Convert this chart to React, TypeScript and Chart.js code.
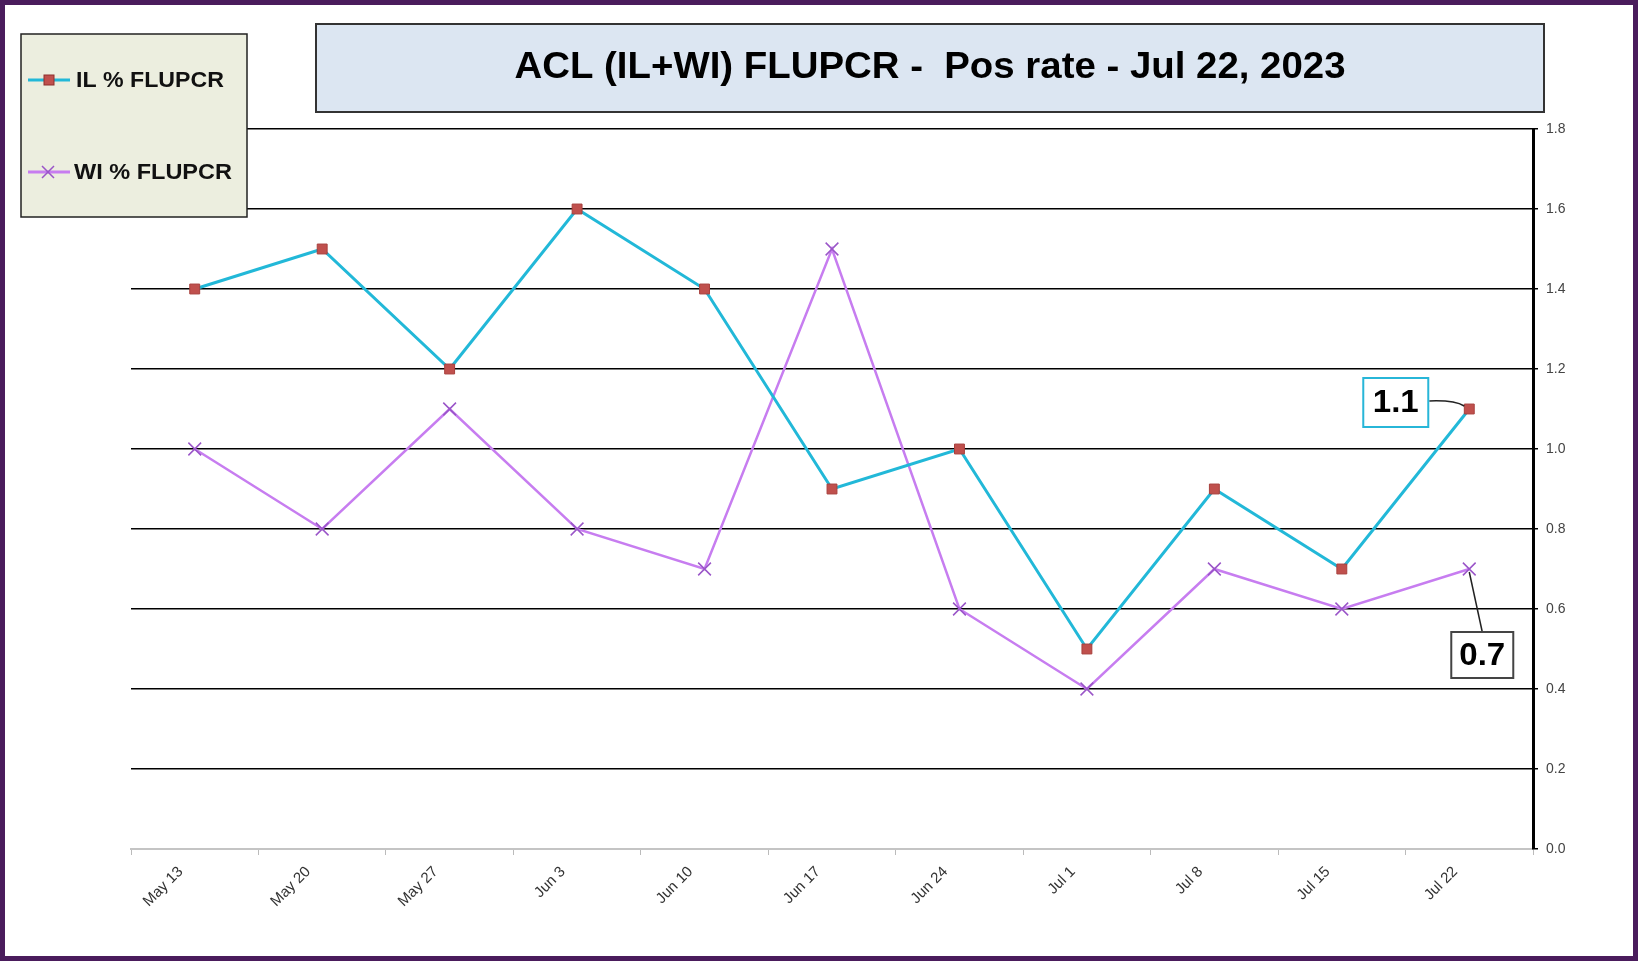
import React, { useEffect, useRef } from "react";
import { Chart, registerables } from "chart.js";

Chart.register(...registerables);

const categories = ["May 13", "May 20", "May 27", "Jun 3", "Jun 10", "Jun 17", "Jun 24", "Jul 1", "Jul 8", "Jul 15", "Jul 22"];
const ilValues = [1.4, 1.5, 1.2, 1.6, 1.4, 0.9, 1.0, 0.5, 0.9, 0.7, 1.1];
const wiValues = [1.0, 0.8, 1.1, 0.8, 0.7, 1.5, 0.6, 0.4, 0.7, 0.6, 0.7];
const seriesNames = ["IL % FLUPCR", "WI % FLUPCR"];
const titleText = "ACL (IL+WI) FLUPCR -  Pos rate - Jul 22, 2023";
const yMin = 0;
const yMax = 1.8;
const yStep = 0.2;

const IL_LINE = "#22B8D8";
const IL_MARK = "#C0504D";
const WI_LINE = "#C77DF0";
const WI_MARK = "#9A55C8";
const FONT = "'Liberation Sans', Arial, sans-serif";

function fitText(ctx: CanvasRenderingContext2D, text: string, x: number, y: number, width: number, font: string, align: CanvasTextAlign) {
  ctx.save();
  ctx.font = font;
  const w = ctx.measureText(text).width;
  const s = width / w;
  ctx.translate(x, y);
  ctx.scale(s, 1);
  ctx.textAlign = align;
  ctx.textBaseline = "middle";
  ctx.fillText(text, 0, 0);
  ctx.restore();
}

function drawSquare(ctx: CanvasRenderingContext2D, x: number, y: number, r: number) {
  ctx.fillStyle = IL_MARK;
  ctx.strokeStyle = "#8E2F2C";
  ctx.lineWidth = 1;
  ctx.fillRect(x - r, y - r, 2 * r, 2 * r);
  ctx.strokeRect(x - r, y - r, 2 * r, 2 * r);
}

function drawCross(ctx: CanvasRenderingContext2D, x: number, y: number, r: number) {
  ctx.strokeStyle = WI_MARK;
  ctx.lineWidth = 1.5;
  ctx.beginPath();
  ctx.moveTo(x - r, y - r);
  ctx.lineTo(x + r, y + r);
  ctx.moveTo(x + r, y - r);
  ctx.lineTo(x - r, y + r);
  ctx.stroke();
}

const decorPlugin = {
  id: "decor",
  afterDraw(chart: any) {
    const ctx: CanvasRenderingContext2D = chart.ctx;
    const W = chart.width;
    const H = chart.height;
    ctx.save();

    // Title box
    ctx.fillStyle = "#DCE6F2";
    ctx.fillRect(316, 24, 1228, 88);
    ctx.strokeStyle = "#333";
    ctx.lineWidth = 2;
    ctx.strokeRect(316, 24, 1228, 88);
    ctx.fillStyle = "#000";
    fitText(ctx, titleText, 930, 68, 831, `bold 36px ${FONT}`, "center");

    // Legend box
    ctx.fillStyle = "#ECEEDF";
    ctx.fillRect(21, 34, 226, 183);
    ctx.strokeStyle = "#222";
    ctx.lineWidth = 1.5;
    ctx.strokeRect(21, 34, 226, 183);
    // IL sample
    ctx.strokeStyle = IL_LINE;
    ctx.lineWidth = 3;
    ctx.beginPath();
    ctx.moveTo(28, 80);
    ctx.lineTo(70, 80);
    ctx.stroke();
    drawSquare(ctx, 49, 80, 5);
    ctx.fillStyle = "#111";
    fitText(ctx, seriesNames[0], 76, 81, 148, `bold 22px ${FONT}`, "left");
    // WI sample
    ctx.strokeStyle = WI_LINE;
    ctx.lineWidth = 3;
    ctx.beginPath();
    ctx.moveTo(28, 172);
    ctx.lineTo(70, 172);
    ctx.stroke();
    drawCross(ctx, 48, 172, 6);
    ctx.fillStyle = "#111";
    fitText(ctx, seriesNames[1], 74, 173, 158, `bold 22px ${FONT}`, "left");

    // Annotations on last points
    const xs = chart.scales.x;
    const ys = chart.scales.y;
    const last = categories.length - 1;
    const px = xs.getPixelForValue(last);
    const pyIL = ys.getPixelForValue(ilValues[last]);
    const pyWI = ys.getPixelForValue(wiValues[last]);

    // IL label
    ctx.strokeStyle = "#222";
    ctx.lineWidth = 1.5;
    ctx.beginPath();
    ctx.moveTo(px - 40, pyIL - 8);
    ctx.quadraticCurveTo(px - 15, pyIL - 9, px - 5, pyIL - 3);
    ctx.stroke();
    ctx.fillStyle = "#fff";
    ctx.fillRect(px - 106, pyIL - 31, 65, 49);
    ctx.strokeStyle = "#27B6D8";
    ctx.lineWidth = 2;
    ctx.strokeRect(px - 106, pyIL - 31, 65, 49);
    ctx.fillStyle = "#000";
    ctx.textAlign = "center";
    ctx.textBaseline = "middle";
    fitText(ctx, String(ilValues[last]), px - 73.5, pyIL - 6, 46, `bold 31px ${FONT}`, "center");

    // WI label
    ctx.strokeStyle = "#222";
    ctx.lineWidth = 1.5;
    ctx.beginPath();
    ctx.moveTo(px, pyWI + 3);
    ctx.lineTo(px + 13, pyWI + 63);
    ctx.stroke();
    ctx.fillStyle = "#fff";
    ctx.fillRect(px - 18, pyWI + 63, 62, 46);
    ctx.strokeStyle = "#444";
    ctx.lineWidth = 2;
    ctx.strokeRect(px - 18, pyWI + 63, 62, 46);
    ctx.fillStyle = "#000";
    fitText(ctx, String(wiValues[last]), px + 13, pyWI + 87, 46, `bold 31px ${FONT}`, "center");

    // Outer frame
    ctx.strokeStyle = "#4A1C5C";
    ctx.lineWidth = 5;
    ctx.strokeRect(2.5, 2.5, W - 5, H - 5);
    ctx.restore();
  },
};

export default function App() {
  const ref = useRef<HTMLCanvasElement | null>(null);

  useEffect(() => {
    if (!ref.current) return;
    const chart = new Chart(ref.current, {
      type: "line",
      data: {
        labels: categories,
        datasets: [
          {
            label: seriesNames[0],
            data: ilValues,
            borderColor: IL_LINE,
            borderWidth: 3,
            pointStyle: "rect",
            pointRadius: 7,
            pointBackgroundColor: IL_MARK,
            pointBorderColor: "#A8403D",
            pointBorderWidth: 1,
            tension: 0,
          },
          {
            label: seriesNames[1],
            data: wiValues,
            borderColor: WI_LINE,
            borderWidth: 2.5,
            pointStyle: "crossRot",
            pointRadius: 9,
            pointBorderColor: WI_MARK,
            pointBorderWidth: 1.5,
            tension: 0,
          },
        ],
      },
      options: {
        responsive: false,
        animation: false,
        devicePixelRatio: 1,
        layout: { padding: { left: 131, top: 129, right: 0, bottom: 0 } },
        plugins: {
          legend: { display: false },
          title: { display: false },
          tooltip: { enabled: false },
        },
        scales: {
          x: {
            type: "category",
            offset: true,
            grid: {
              display: true,
              drawOnChartArea: false,
              drawTicks: true,
              tickLength: 6,
              color: "#bbb",
              offset: true,
            },
            border: { display: true, color: "#c4c4c4", width: 2 },
            ticks: {
              color: "#333",
              font: { family: FONT, size: 15 },
              minRotation: 45,
              maxRotation: 45,
              autoSkip: false,
              padding: 8,
              labelOffset: -14,
            },
            afterFit(scale: any) {
              scale.height = 112;
            },
          },
          y: {
            position: "right",
            min: yMin,
            max: yMax,
            grid: {
              color: (c: any) => (c.tick && c.tick.value === 0 ? "rgba(0,0,0,0)" : "#000"),
              lineWidth: 1.5,
              drawTicks: true,
              tickLength: 5,
              tickColor: "#000",
            },
            border: { display: true, color: "#000", width: 3 },
            ticks: {
              stepSize: yStep,
              color: "#444",
              font: { family: FONT, size: 14 },
              padding: 8,
              callback: (v: any) => Number(v).toFixed(1),
            },
            afterFit(scale: any) {
              scale.width = 105;
            },
          },
        },
      },
      plugins: [decorPlugin],
    } as any);
    return () => chart.destroy();
  }, []);

  return (
    <div style={{ position: "absolute", left: 0, top: 0, width: 1638, height: 961, background: "#fff" }}>
      <canvas ref={ref} width={1638} height={961} style={{ display: "block", width: 1638, height: 961 }} />
    </div>
  );
}
